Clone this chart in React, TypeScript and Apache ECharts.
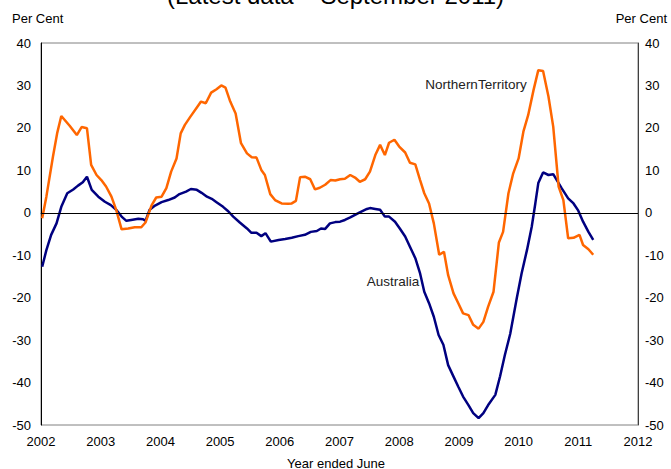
import React, { useEffect, useRef } from "react";
import * as echarts from "echarts";

const title = "(Latest data – September 2011)";
const yTicks = [-50, -40, -30, -20, -10, 0, 10, 20, 30, 40];
const xTicks = [2002, 2003, 2004, 2005, 2006, 2007, 2008, 2009, 2010, 2011, 2012];

const ntYears = [
  2002.02, 2002.09, 2002.2, 2002.27, 2002.34, 2002.48, 2002.6, 2002.68, 2002.77, 2002.84,
  2002.93, 2003.01, 2003.09, 2003.18, 2003.26, 2003.35, 2003.46, 2003.57, 2003.68, 2003.75,
  2003.85, 2003.93, 2004.02, 2004.1, 2004.18, 2004.27, 2004.34, 2004.41, 2004.5, 2004.64,
  2004.68, 2004.76, 2004.85, 2004.94, 2005.02, 2005.09, 2005.17, 2005.26, 2005.35, 2005.45,
  2005.53, 2005.61, 2005.69, 2005.75, 2005.84, 2005.92, 2006.03, 2006.14, 2006.2, 2006.27,
  2006.34, 2006.42, 2006.51, 2006.59, 2006.67, 2006.76, 2006.85, 2006.93, 2007.01, 2007.09,
  2007.18, 2007.26, 2007.34, 2007.43, 2007.51, 2007.6, 2007.68, 2007.76, 2007.83, 2007.92,
  2008.0, 2008.1, 2008.18, 2008.27, 2008.35, 2008.42, 2008.5, 2008.58, 2008.67, 2008.75,
  2008.82, 2008.91, 2008.99, 2009.07, 2009.16, 2009.24, 2009.33, 2009.41, 2009.49, 2009.58,
  2009.67, 2009.74, 2009.83, 2009.91, 2010.0, 2010.08, 2010.16, 2010.25, 2010.33, 2010.41,
  2010.5, 2010.58, 2010.67, 2010.75, 2010.83, 2010.92, 2011.02, 2011.08, 2011.17, 2011.25,
];
const ntValues = [
  -1.3, 3.8, 13.2, 18.7, 22.8, 20.5, 18.3, 20.2, 19.9, 11.3,
  8.9, 7.7, 6.2, 3.8, 0.7, -3.9, -3.7, -3.4, -3.4, -2.3,
  1.7, 3.6, 3.8, 5.8, 9.7, 12.8, 18.7, 20.7, 22.6, 25.4,
  26.2, 25.8, 28.3, 29.1, 30.0, 29.5, 26.2, 23.4, 16.4, 14.0,
  13.1, 13.0, 10.1, 8.9, 4.4, 3.0, 2.2, 2.1, 2.2, 2.8,
  8.4, 8.5, 7.9, 5.5, 5.9, 6.6, 7.7, 7.6, 7.9, 8.0,
  8.9, 8.3, 7.3, 7.9, 9.7, 13.6, 16.0, 13.6, 16.5, 17.2,
  15.6, 14.2, 11.8, 11.4, 7.7, 4.6, 2.2, -2.5, -9.9, -9.2,
  -14.7, -19.0, -21.3, -23.7, -24.1, -26.4, -27.3, -25.7, -22.1, -18.6,
  -7.0, -4.5, 4.6, 9.3, 12.8, 19.1, 23.0, 28.9, 33.6, 33.4,
  27.4, 20.3, 6.2, 3.0, -6.0, -5.9, -5.2, -7.6, -8.6, -9.9,
];

const ausYears = [
  2002.02, 2002.09, 2002.17, 2002.26, 2002.34, 2002.44, 2002.54, 2002.62, 2002.7, 2002.77,
  2002.85, 2002.96, 2003.07, 2003.17, 2003.26, 2003.35, 2003.43, 2003.51, 2003.63, 2003.71,
  2003.75, 2003.82, 2003.91, 2004.02, 2004.13, 2004.24, 2004.32, 2004.43, 2004.51, 2004.61,
  2004.69, 2004.78, 2004.86, 2004.94, 2005.05, 2005.14, 2005.22, 2005.33, 2005.45, 2005.52,
  2005.61, 2005.69, 2005.76, 2005.85, 2005.98, 2006.09, 2006.2, 2006.31, 2006.42, 2006.52,
  2006.62, 2006.69, 2006.76, 2006.84, 2006.93, 2007.01, 2007.09, 2007.18, 2007.26, 2007.34,
  2007.46, 2007.51, 2007.6, 2007.68, 2007.76, 2007.83, 2007.93, 2008.01, 2008.1, 2008.18,
  2008.27, 2008.35, 2008.42, 2008.5, 2008.58, 2008.66, 2008.74, 2008.82, 2008.91, 2008.99,
  2009.07, 2009.16, 2009.24, 2009.33, 2009.41, 2009.49, 2009.61, 2009.69, 2009.77, 2009.86,
  2009.97, 2010.05, 2010.14, 2010.22, 2010.28, 2010.33, 2010.41, 2010.5, 2010.58, 2010.64,
  2010.72, 2010.83, 2010.92, 2011.0, 2011.08, 2011.17, 2011.25,
];
const ausValues = [
  -12.7, -8.8, -5.2, -2.5, 1.4, 4.6, 5.5, 6.4, 7.2, 8.5,
  5.4, 3.8, 2.6, 1.8, 0.7, -0.9, -1.9, -1.7, -1.4, -1.5,
  -1.9, 0.7, 1.7, 2.5, 3.0, 3.6, 4.4, 5.0, 5.6, 5.4,
  4.7, 3.8, 3.3, 2.5, 1.4, 0.3, -0.9, -2.3, -3.7, -4.7,
  -4.7, -5.5, -4.8, -6.8, -6.4, -6.2, -5.9, -5.5, -5.2, -4.5,
  -4.3, -3.7, -3.8, -2.5, -2.2, -2.1, -1.7, -1.1, -0.5, 0.1,
  0.9, 1.1, 0.9, 0.7, -0.9, -0.9, -2.1, -3.7, -5.6, -8.0,
  -10.7, -14.3, -18.6, -21.3, -24.5, -28.8, -31.1, -35.9, -38.6, -41.0,
  -43.3, -45.3, -47.2, -48.4, -47.2, -45.3, -42.9, -38.5, -33.5, -28.5,
  -20.1, -14.3, -8.8, -3.3, 2.2, 7.0, 9.5, 8.9, 9.1, 7.7,
  5.8, 3.4, 2.2, 0.5, -2.1, -4.5, -6.4,
];

const FONT = "'Liberation Sans', Arial, sans-serif";

export default function App() {
  const ref = useRef<HTMLDivElement>(null);
  useEffect(() => {
    if (!ref.current) return;
    const chart = echarts.init(ref.current, null, { renderer: "svg" });
    const ntData = ntYears.map((x, i) => [x, ntValues[i]]);
    const ausData = ausYears.map((x, i) => [x, ausValues[i]]);
    const yAxisBase = {
      type: "value" as const,
      min: yTicks[0],
      max: yTicks[yTicks.length - 1],
      interval: 10,
      splitLine: { show: false },
      axisTick: { show: false },
      axisLabel: { color: "#000", fontSize: 13, fontFamily: FONT, margin: 10 },
    };
    chart.setOption({
      animation: false,
      backgroundColor: "#fff",
      grid: {
        left: 41,
        right: 33,
        top: 43,
        bottom: 44,
        show: true,
        borderColor: "#808080",
        borderWidth: 1,
        backgroundColor: "transparent",
      },
      xAxis: {
        type: "value",
        min: xTicks[0],
        max: xTicks[xTicks.length - 1],
        interval: 1,
        splitLine: { show: false },
        axisTick: { show: false },
        axisLine: { show: true, lineStyle: { color: "#404040", width: 1 } },
        axisLabel: {
          color: "#000",
          fontSize: 13,
          fontFamily: FONT,
          margin: 10,
          formatter: (v: number) => String(Math.round(v)),
        },
      },
      yAxis: [
        {
          ...yAxisBase,
          position: "left",
          axisLine: { show: true, lineStyle: { color: "#000", width: 1 } },
        },
        {
          ...yAxisBase,
          position: "right",
          axisLine: { show: true, lineStyle: { color: "#404040", width: 1 } },
          axisLabel: { ...yAxisBase.axisLabel, margin: 7 },
        },
      ],
      series: [
        {
          name: "Australia",
          type: "line",
          data: ausData,
          showSymbol: false,
          symbol: "none",
          lineStyle: { color: "#000080", width: 2.5 },
          markLine: {
            silent: true,
            symbol: ["none", "none"],
            label: { show: false },
            lineStyle: { color: "#000", width: 1, type: "solid" },
            data: [{ yAxis: 0 }],
          },
          z: 2,
        },
        {
          name: "NorthernTerritory",
          type: "line",
          data: ntData,
          showSymbol: false,
          symbol: "none",
          lineStyle: { color: "#FF6600", width: 2.5 },
          z: 3,
        },
      ],
      graphic: [
        {
          type: "text",
          left: "center",
          top: -17,
          style: { text: title, fontSize: 24, fontFamily: FONT, fill: "#000" },
        },
        {
          type: "text",
          x: 12,
          y: 18,
          style: { text: "Per Cent", fontSize: 13, fontFamily: FONT, fill: "#000", verticalAlign: "middle" },
        },
        {
          type: "text",
          x: 667,
          y: 18,
          style: { text: "Per Cent", fontSize: 13, fontFamily: FONT, fill: "#000", align: "right", verticalAlign: "middle" },
        },
        {
          type: "text",
          x: 336,
          y: 463,
          style: { text: "Year ended June", fontSize: 13, fontFamily: FONT, fill: "#000", align: "center", verticalAlign: "middle" },
        },
        {
          type: "text",
          x: 476,
          y: 84,
          style: { text: "NorthernTerritory", fontSize: 13.5, fontFamily: FONT, fill: "#222", align: "center", verticalAlign: "middle" },
        },
        {
          type: "text",
          x: 393,
          y: 281,
          style: { text: "Australia", fontSize: 13.5, fontFamily: FONT, fill: "#222", align: "center", verticalAlign: "middle" },
        },
      ],
    });
    return () => chart.dispose();
  }, []);
  return (
    <div
      ref={ref}
      style={{ position: "fixed", left: 0, top: 0, width: 671, height: 469, background: "#fff" }}
    />
  );
}
